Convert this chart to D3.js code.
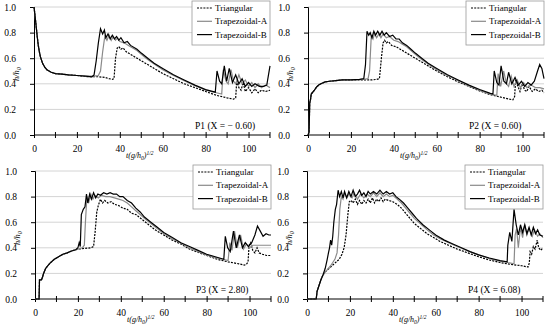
<!DOCTYPE html>
<html>
<head>
<meta charset="utf-8">
<script src="https://cdn.jsdelivr.net/npm/d3@7"></script>
<style>
body { margin: 0; background: #fff; }
text { font-family: "Liberation Serif", "Times New Roman", serif; }
</style>
</head>
<body>
<div id="container"></div>
<script>
var seriesNames = ["Triangular", "Trapezoidal-A", "Trapezoidal-B"];
var panelLabels = ["P1 (X = \u2212 0.60)", "P2 (X = 0.60)", "P3 (X = 2.80)", "P4 (X = 6.08)"];
var xTicks = [0, 20, 40, 60, 80, 100];
var xMinor = [10, 30, 50, 70, 90, 110];
var yTicks = [0, 0.2, 0.4, 0.6, 0.8, 1.0];

// P1
var p1Tri = [[0,1.0],[0.5,0.93],[1,0.85],[1.5,0.77],[2,0.70],[2.5,0.65],[3,0.61],[4,0.56],[5,0.53],[6,0.51],[8,0.49],[10,0.48],[13,0.475],[16,0.47],[20,0.465],[25,0.455],[30,0.455],[33,0.45],[35,0.44],[36.5,0.435],[37.3,0.44],[38,0.60],[38.8,0.68],[39.5,0.69],[40.5,0.67],[41.5,0.68],[43,0.65],[45,0.63],[47,0.61],[50,0.58],[53,0.55],[56,0.52],[60,0.48],[65,0.44],[70,0.40],[75,0.37],[80,0.34],[85,0.31],[90,0.29],[93,0.28],[94,0.29],[94.5,0.42],[95.5,0.37],[96.5,0.35],[97.5,0.41],[98.5,0.34],[100,0.37],[101.5,0.33],[103,0.36],[104.5,0.33],[106,0.35],[108,0.34],[110,0.35]];
var p1TrA = [[0,1.0],[0.5,0.93],[1,0.85],[1.5,0.77],[2,0.70],[2.5,0.65],[3,0.61],[4,0.56],[5,0.53],[6,0.51],[8,0.49],[10,0.48],[13,0.475],[16,0.47],[20,0.465],[24,0.46],[28,0.46],[30,0.465],[31,0.50],[32,0.65],[33,0.77],[34,0.74],[35,0.78],[36,0.74],[37,0.77],[38,0.74],[39,0.76],[40,0.73],[42,0.72],[44,0.70],[46,0.68],[48,0.66],[50,0.63],[53,0.59],[56,0.555],[60,0.51],[65,0.465],[70,0.425],[75,0.385],[80,0.35],[85,0.33],[87.5,0.32],[88.2,0.51],[89.5,0.42],[90.5,0.40],[91.8,0.51],[93,0.42],[94,0.40],[95.5,0.47],[97,0.40],[98.5,0.43],[100,0.38],[101.5,0.41],[103,0.37],[104.5,0.40],[106,0.37],[108,0.39],[110,0.37]];
var p1TrB = [[0,1.0],[0.5,0.93],[1,0.85],[1.5,0.77],[2,0.70],[2.5,0.65],[3,0.61],[4,0.56],[5,0.53],[6,0.51],[8,0.49],[10,0.48],[13,0.475],[16,0.47],[20,0.465],[24,0.46],[27,0.455],[28,0.47],[29,0.58],[30,0.72],[31,0.83],[32,0.79],[32.8,0.82],[33.5,0.76],[34.5,0.79],[35.5,0.75],[36.5,0.78],[37.5,0.75],[38.5,0.77],[39.5,0.74],[40.5,0.76],[42,0.72],[43.5,0.73],[45,0.70],[48,0.67],[50,0.64],[53,0.60],[56,0.56],[60,0.52],[65,0.47],[70,0.43],[75,0.39],[80,0.355],[84.5,0.335],[85.3,0.50],[86.5,0.42],[87.5,0.40],[88.7,0.54],[89.8,0.42],[91,0.52],[92.5,0.41],[94,0.47],[95.5,0.40],[97,0.44],[98.5,0.38],[100,0.41],[101.5,0.38],[103,0.40],[105,0.38],[107,0.38],[108.5,0.39],[110,0.54]];

// P2
var p2Tri = [[0,0],[0.5,0.02],[0.8,0.25],[1.2,0.28],[1.5,0.32],[2,0.33],[3,0.35],[4,0.375],[5,0.39],[6,0.40],[8,0.415],[10,0.42],[13,0.425],[16,0.43],[20,0.43],[25,0.43],[30,0.43],[32,0.435],[33.3,0.44],[34.2,0.60],[35,0.72],[35.7,0.74],[36.5,0.72],[37.5,0.73],[39,0.70],[41,0.69],[43,0.67],[45,0.65],[47,0.63],[50,0.60],[53,0.57],[56,0.54],[60,0.50],[65,0.455],[70,0.415],[75,0.38],[80,0.345],[85,0.315],[90,0.295],[94,0.28],[95.5,0.275],[96.3,0.30],[96.8,0.43],[97.8,0.38],[98.8,0.34],[99.8,0.40],[101,0.35],[102,0.34],[103,0.38],[104.5,0.34],[106,0.36],[107.5,0.34],[109,0.35],[110,0.33]];
var p2TrA = [[0,0],[0.5,0.02],[0.8,0.25],[1.2,0.28],[1.5,0.32],[2,0.33],[3,0.35],[4,0.375],[5,0.39],[6,0.40],[8,0.415],[10,0.42],[13,0.425],[16,0.43],[20,0.43],[26,0.435],[28,0.44],[28.7,0.50],[29.5,0.78],[30.3,0.75],[31,0.79],[32,0.76],[33,0.79],[34,0.76],[35,0.79],[36.5,0.76],[38,0.77],[40,0.74],[42,0.73],[44,0.71],[46,0.69],[48,0.66],[50,0.63],[53,0.59],[56,0.555],[60,0.51],[65,0.465],[70,0.425],[75,0.385],[80,0.35],[85,0.32],[88,0.31],[88.6,0.48],[89.8,0.38],[91.2,0.50],[92.5,0.40],[93.5,0.38],[94.7,0.46],[96,0.38],[97.5,0.43],[99,0.37],[100.5,0.41],[102,0.37],[104,0.39],[106,0.37],[108,0.37],[110,0.36]];
var p2TrB = [[0,0],[0.5,0.02],[0.8,0.25],[1.2,0.28],[1.5,0.32],[2,0.33],[3,0.35],[4,0.375],[5,0.39],[6,0.40],[8,0.415],[10,0.42],[13,0.425],[16,0.43],[20,0.43],[24,0.435],[26,0.44],[26.8,0.55],[27.5,0.81],[28.3,0.78],[29,0.80],[29.8,0.76],[30.7,0.81],[31.5,0.78],[32.5,0.81],[33.5,0.78],[34.5,0.81],[35.5,0.78],[36.5,0.80],[38,0.77],[39.5,0.78],[41,0.75],[42.5,0.75],[44,0.72],[46,0.70],[48,0.67],[50,0.64],[53,0.60],[56,0.56],[60,0.52],[65,0.47],[70,0.43],[75,0.39],[80,0.355],[85,0.325],[86.2,0.32],[86.8,0.50],[88,0.41],[89,0.39],[90,0.54],[91.3,0.42],[92.5,0.40],[93.5,0.49],[95,0.40],[96.5,0.45],[98,0.39],[99.5,0.42],[101,0.38],[102.5,0.41],[104,0.39],[105.5,0.42],[107,0.50],[108,0.55],[109,0.52],[110,0.44]];

// P3
var p3Tri = [[0,0],[1.9,0],[2.1,0.15],[3,0.15],[3.5,0.17],[4,0.20],[5,0.24],[6,0.26],[7,0.28],[9,0.31],[11,0.33],[13,0.35],[15,0.36],[17,0.375],[20,0.39],[23,0.395],[26,0.40],[27.3,0.41],[28,0.52],[28.8,0.68],[29.5,0.73],[30.5,0.78],[31.5,0.75],[32.5,0.77],[34,0.75],[35.5,0.76],[37,0.74],[39,0.73],[41,0.71],[43,0.70],[45,0.67],[47,0.66],[50,0.62],[53,0.58],[56,0.54],[60,0.50],[64,0.46],[68,0.43],[72,0.39],[76,0.365],[80,0.34],[85,0.31],[90,0.29],[95,0.275],[97.5,0.265],[98.5,0.27],[99.3,0.29],[99.8,0.42],[100.5,0.44],[101.5,0.38],[102.5,0.36],[103.5,0.40],[104.5,0.36],[106,0.35],[108,0.34],[110,0.34]];
var p3TrA = [[0,0],[1.9,0],[2.1,0.15],[3,0.15],[3.5,0.17],[4,0.20],[5,0.24],[6,0.26],[7,0.28],[9,0.31],[11,0.33],[13,0.35],[15,0.36],[17,0.375],[20,0.39],[22,0.40],[23,0.42],[23.5,0.60],[24.2,0.80],[25,0.75],[26,0.82],[27,0.78],[28,0.81],[29.5,0.79],[31,0.81],[33,0.80],[35,0.80],[37,0.79],[39,0.78],[41,0.77],[43,0.75],[45,0.72],[47,0.69],[49,0.66],[51,0.63],[54,0.59],[57,0.55],[60,0.51],[64,0.47],[68,0.435],[72,0.40],[76,0.37],[80,0.345],[85,0.32],[90,0.30],[90.8,0.44],[91.8,0.38],[93,0.53],[94.3,0.40],[95.8,0.50],[97.2,0.39],[98.5,0.43],[100,0.40],[101.5,0.42],[103,0.42],[106,0.42],[110,0.42]];
var p3TrB = [[0,0],[1.9,0],[2.1,0.15],[3,0.15],[3.5,0.17],[4,0.20],[5,0.24],[6,0.26],[7,0.28],[9,0.31],[11,0.33],[13,0.35],[15,0.36],[17,0.375],[19,0.385],[20,0.40],[20.6,0.44],[21.1,0.41],[21.6,0.66],[22.5,0.70],[23.3,0.72],[24,0.82],[24.6,0.75],[25.5,0.82],[26.3,0.78],[27.3,0.83],[28.3,0.79],[29.3,0.82],[30.5,0.81],[32,0.83],[33.5,0.82],[35,0.83],[36.5,0.82],[38,0.82],[39.5,0.80],[41,0.80],[43,0.77],[45,0.75],[47,0.71],[49,0.68],[51,0.64],[54,0.60],[57,0.56],[60,0.52],[64,0.48],[68,0.44],[72,0.41],[76,0.38],[80,0.35],[84,0.33],[88,0.31],[88.7,0.49],[89.8,0.40],[91,0.37],[92.5,0.53],[93.8,0.40],[95.3,0.50],[96.7,0.40],[98,0.44],[99.5,0.41],[101,0.44],[102.5,0.50],[103.7,0.57],[105,0.53],[106.3,0.49],[107.7,0.51],[109,0.50],[110,0.50]];

// P4
var p4Tri = [[0,0],[4.3,0],[4.7,0.06],[5.5,0.10],[6.5,0.15],[7.5,0.19],[9,0.22],[11,0.25],[13,0.28],[15,0.31],[16.3,0.35],[17.3,0.40],[18.2,0.50],[19,0.65],[19.7,0.76],[20.5,0.77],[21.5,0.75],[22.5,0.78],[23.5,0.74],[24.5,0.77],[25.5,0.74],[26.5,0.77],[27.5,0.75],[28.5,0.78],[29.5,0.75],[30.5,0.79],[31.5,0.75],[32.5,0.78],[33.5,0.76],[34.5,0.79],[35.5,0.76],[36.5,0.78],[38,0.77],[40,0.76],[42,0.74],[44,0.71],[46,0.67],[48,0.63],[50,0.59],[53,0.55],[56,0.51],[59,0.48],[62,0.45],[66,0.42],[70,0.39],[75,0.36],[80,0.33],[85,0.305],[90,0.285],[95,0.27],[100,0.26],[103,0.25],[103.6,0.28],[104,0.37],[104.7,0.35],[105.5,0.41],[106.3,0.39],[107.3,0.46],[108,0.40],[109,0.38],[110,0.40]];
var p4TrA = [[0,0],[4.3,0],[4.7,0.06],[5.5,0.10],[6.5,0.15],[7.5,0.19],[9,0.22],[11,0.26],[13,0.31],[14,0.36],[14.7,0.50],[15.3,0.70],[16,0.80],[16.8,0.78],[17.5,0.83],[18.5,0.79],[19.5,0.82],[21,0.79],[22,0.83],[23.5,0.78],[25,0.82],[26.5,0.79],[28,0.82],[29.5,0.80],[31,0.83],[32.5,0.80],[34,0.83],[35.5,0.80],[37,0.82],[38.5,0.80],[40,0.81],[42,0.78],[44,0.75],[46,0.71],[48,0.67],[50,0.63],[53,0.585],[56,0.54],[59,0.50],[62,0.47],[66,0.44],[70,0.41],[75,0.375],[80,0.345],[85,0.315],[90,0.295],[95,0.28],[96.5,0.275],[97,0.50],[97.7,0.55],[98.5,0.40],[99.5,0.56],[100.5,0.48],[101.5,0.58],[102.5,0.50],[103.5,0.55],[105,0.49],[106,0.54],[107.5,0.49],[108.5,0.51],[110,0.48]];
var p4TrB = [[0,0],[4.3,0],[4.7,0.06],[5.5,0.10],[6.5,0.15],[7.5,0.19],[8.5,0.24],[9.3,0.30],[10,0.36],[10.5,0.40],[11,0.46],[11.5,0.42],[12,0.49],[12.5,0.60],[13.2,0.70],[13.8,0.74],[14.5,0.85],[15.2,0.80],[16,0.84],[16.8,0.79],[17.5,0.84],[18.5,0.79],[19.5,0.84],[20.5,0.80],[21.5,0.85],[22.5,0.80],[23.5,0.82],[24.5,0.85],[25.5,0.81],[26.5,0.83],[27.5,0.80],[28.5,0.84],[29.5,0.82],[31,0.84],[32.5,0.82],[34,0.85],[35.5,0.82],[37,0.84],[38.5,0.82],[40,0.83],[41.5,0.80],[43,0.78],[45,0.75],[47,0.71],[49,0.67],[51,0.63],[54,0.58],[57,0.54],[60,0.50],[64,0.46],[68,0.43],[72,0.40],[76,0.37],[80,0.345],[85,0.32],[90,0.30],[93.3,0.29],[93.6,0.42],[94.5,0.52],[95.5,0.45],[96.5,0.70],[97.5,0.58],[98.5,0.50],[99.5,0.58],[100.5,0.52],[101.5,0.58],[102.5,0.51],[103.5,0.56],[104.5,0.50],[105.5,0.56],[106.5,0.51],[107.5,0.54],[108.5,0.50],[110,0.49]];

var panelData = [[p1Tri, p1TrA, p1TrB], [p2Tri, p2TrA, p2TrB], [p3Tri, p3TrA, p3TrB], [p4Tri, p4TrA, p4TrB]];

var spots = [{left: 34, top: 7}, {left: 308, top: 7}, {left: 35, top: 171}, {left: 307, top: 171}];
var W = 236, H = 128;
var colors = ["#000", "#8a8a8a", "#000"];
var dashes = ["2,1.2", null, null];

var svg = d3.select("#container").append("svg")
    .attr("width", 550)
    .attr("height", 332);

panelData.forEach(function (series, i) {
    var g = svg.append("g")
        .attr("transform", "translate(" + spots[i].left + "," + spots[i].top + ")");

    var x = d3.scaleLinear().domain([0, 110]).range([0, W]);
    var y = d3.scaleLinear().domain([0, 1]).range([H, 0]);

    // grid
    g.selectAll(".grid").data(yTicks.slice(1)).enter().append("line")
        .attr("x1", 0).attr("x2", W)
        .attr("y1", function (d) { return y(d); })
        .attr("y2", function (d) { return y(d); })
        .attr("stroke", "#d4d4d4").attr("stroke-width", 1);

    // y axis
    var ya = g.append("g").call(d3.axisLeft(y).tickValues(yTicks).tickFormat(d3.format(".1f")).tickSize(4).tickPadding(14));
    ya.select(".domain").attr("stroke", "#000");
    ya.selectAll("text").attr("font-size", 9.5).attr("font-family", "Liberation Serif");

    // x axis
    var xa = g.append("g").attr("transform", "translate(0," + H + ")")
        .call(d3.axisBottom(x).tickValues(xTicks).tickFormat(d3.format("d")).tickSize(3).tickPadding(7));
    xa.selectAll(".tick line").attr("y1", -3);
    xa.select(".domain").attr("d", "M0,0H" + W);
    xa.selectAll("text").attr("font-size", 9.5).attr("font-family", "Liberation Serif");
    g.selectAll(".minor").data(xMinor).enter().append("line")
        .attr("x1", function (d) { return x(d); }).attr("x2", function (d) { return x(d); })
        .attr("y1", H - 3).attr("y2", H + 3)
        .attr("stroke", "#000");

    // lines
    var line = d3.line().x(function (d) { return x(d[0]); }).y(function (d) { return y(d[1]); });
    [0, 1, 2].forEach(function (k) {
        g.append("path").datum(series[k])
            .attr("d", line)
            .attr("fill", "none")
            .attr("stroke", colors[k])
            .attr("stroke-width", 1.2)
            .attr("stroke-dasharray", dashes[k]);
    });

    // legend
    var lg = g.append("g").attr("transform", "translate(158,-6)");
    lg.append("rect").attr("width", 78).attr("height", 44)
        .attr("fill", "#fff").attr("stroke", "#9a9a9a").attr("stroke-width", 0.8);
    seriesNames.forEach(function (name, k) {
        var yy = 7 + k * 13.3;
        lg.append("line").attr("x1", 5).attr("x2", 20).attr("y1", yy).attr("y2", yy)
            .attr("stroke", colors[k]).attr("stroke-width", 1.2)
            .attr("stroke-dasharray", dashes[k]);
        lg.append("text").attr("x", 23).attr("y", yy + 3).attr("font-size", 9).text(name);
    });

    // panel label
    g.append("text").attr("x", 161).attr("y", 122).attr("font-size", 9.5).text(panelLabels[i]);

    // axis titles
    var xt = g.append("text").attr("x", 92).attr("y", 151).attr("font-size", 8).attr("font-style", "italic");
    xt.append("tspan").text("t(g/h");
    xt.append("tspan").attr("dy", 2).attr("font-size", 5.5).text("0");
    xt.append("tspan").attr("dy", -2).text(")");
    xt.append("tspan").attr("dy", -3.5).attr("font-size", 5.5).text("1/2");

    var yt = g.append("text").attr("transform", "translate(-15.5,74) rotate(-90)")
        .attr("font-size", 8.5).attr("font-style", "italic");
    yt.append("tspan").text("h/h");
    yt.append("tspan").attr("dy", 2).attr("font-size", 6).text("0");
});
</script>
</body>
</html>
